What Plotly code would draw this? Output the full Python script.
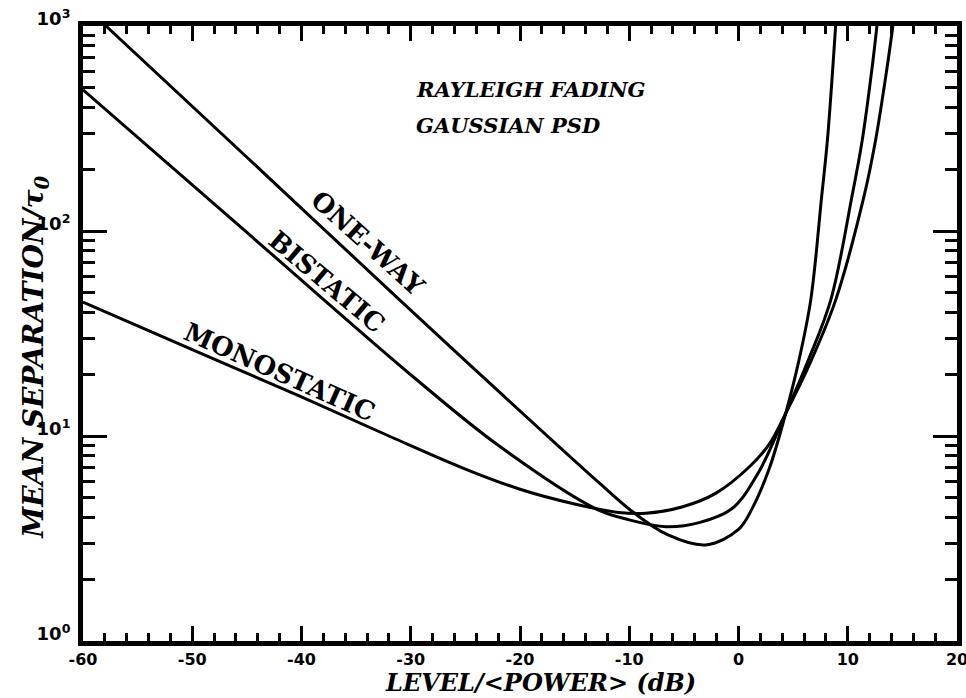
import plotly.graph_objects as go

# Level relative to mean power (dB) and mean separation between fades (units of tau_0)
level_one_way = [-57.9, -45, -31, -21.9, -12.7, -9.7, -6.5, -3.0, 0.0, 1.27, 2.8, 4.32, 5.5, 6.61, 7.61, 8.14, 8.89]
sep_one_way = [1000, 229, 46, 16.4, 5.87, 4.27, 3.3, 2.94, 3.5, 4.45, 6.9, 12.9, 23, 46, 147, 278, 1000]

level_bistatic = [-60, -45, -30, -21.9, -13, -10, -6.65, -3.6, -0.56, 1.8, 4.32, 6.4, 8.44, 10.38, 11.33, 12.24, 12.67]
sep_bistatic = [488, 98.4, 19.9, 8.93, 4.4, 3.9, 3.61, 3.78, 4.44, 6.6, 12.9, 23.5, 46, 147, 278, 633, 1000]

level_monostatic = [-60, -50, -40, -32, -25, -20, -15, -11, -8.5, -5.1, -2.1, 1.0, 2.8, 4.32, 6.6, 8.89, 11.48, 12.55, 13.61, 14.13]
sep_monostatic = [45, 26.4, 15.5, 10.0, 6.9, 5.5, 4.66, 4.24, 4.2, 4.52, 5.25, 7.08, 9.1, 12.9, 23, 46, 147, 278, 633, 1000]

x_ticks = [-60, -50, -40, -30, -20, -10, 0, 10, 20]
y_ticks = [1, 10, 100, 1000]
y_tick_text = ["10<sup>0</sup>", "10<sup>1</sup>", "10<sup>2</sup>", "10<sup>3</sup>"]

SERIF = "DejaVu Serif"
SANS = "DejaVu Sans"

fig = go.Figure()
for lv, sp in [(level_one_way, sep_one_way), (level_bistatic, sep_bistatic), (level_monostatic, sep_monostatic)]:
    fig.add_trace(go.Scatter(
        x=lv, y=sp, mode="lines", showlegend=False, hoverinfo="skip",
        line=dict(color="black", width=3, shape="spline", smoothing=1.0),
    ))

minor_y = [k * 10 ** d for d in range(3) for k in range(2, 10)]

fig.update_layout(
    width=966, height=698,
    margin=dict(l=83, r=9, t=26, b=57),
    paper_bgcolor="white", plot_bgcolor="white",
    showlegend=False,
    xaxis=dict(
        range=[-60, 20], showgrid=False, zeroline=False, automargin=False,
        ticklabeloverflow="allow",
        showline=True, linecolor="black", linewidth=5, mirror="ticks",
        ticks="inside", ticklen=15, tickwidth=3, tickcolor="black",
        tickvals=x_ticks, ticktext=[f"<b>{v}</b>" for v in x_ticks],
        tickfont=dict(family=SANS, size=16, color="black"),
        minor=dict(dtick=2, tick0=0, ticks="inside", ticklen=8, tickwidth=2.5, tickcolor="black", showgrid=False),
    ),
    yaxis=dict(
        type="log", range=[0, 3], showgrid=False, zeroline=False, automargin=False,
        ticklabeloverflow="allow",
        showline=True, linecolor="black", linewidth=5, mirror="ticks",
        ticks="inside", ticklen=24, tickwidth=3, tickcolor="black",
        tickvals=y_ticks, ticktext=[f"<b>{t}</b>" for t in y_tick_text],
        tickfont=dict(family=SANS, size=18, color="black"),
        ticklabelshift=-7, ticklabelstandoff=4,
        minor=dict(tickvals=minor_y, ticks="inside", ticklen=12, tickwidth=2.5, tickcolor="black", showgrid=False),
    ),
)

annotations = [
    dict(text="<b><i>LEVEL/&lt;POWER&gt; (dB)</i></b>", x=0.523, y=-0.068, xref="paper", yref="paper",
         xanchor="center", yanchor="middle", showarrow=False, font=dict(family=SERIF, size=24, color="black")),
    dict(text="<b><i>MEAN SEPARATION/τ<sub>0</sub></i></b>", x=-0.054, y=0.462, xref="paper", yref="paper",
         xanchor="center", yanchor="middle", textangle=-90, showarrow=False,
         font=dict(family=SERIF, size=28, color="black")),
    dict(text="<b><i>RAYLEIGH FADING</i></b>", x=0.379, y=0.896, xref="paper", yref="paper",
         xanchor="left", yanchor="middle", showarrow=False, font=dict(family=SERIF, size=21, color="black")),
    dict(text="<b><i>GAUSSIAN PSD</i></b>", x=0.379, y=0.839, xref="paper", yref="paper",
         xanchor="left", yanchor="middle", showarrow=False, font=dict(family=SERIF, size=21, color="black")),
    dict(text="<b>ONE-WAY</b>", x=0.3257, y=0.647, xref="paper", yref="paper", textangle=42,
         xanchor="center", yanchor="middle", showarrow=False, font=dict(family=SERIF, size=26, color="black")),
    dict(text="<b>BISTATIC</b>", x=0.2794, y=0.584, xref="paper", yref="paper", textangle=40,
         xanchor="center", yanchor="middle", showarrow=False, font=dict(family=SERIF, size=26, color="black")),
    dict(text="<b>MONOSTATIC</b>", x=0.2251, y=0.438, xref="paper", yref="paper", textangle=24,
         xanchor="center", yanchor="middle", showarrow=False, font=dict(family=SERIF, size=26, color="black")),
]
fig.update_layout(annotations=annotations)

fig.write_html("out.html")
